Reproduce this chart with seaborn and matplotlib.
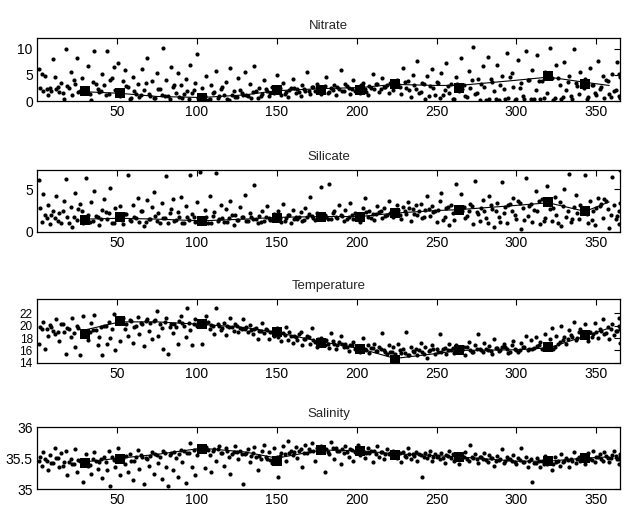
import numpy as np
import seaborn as sns
import matplotlib.pyplot as plt

# sampling days, first set of casts
days = [1, 2, 3, 4, 5, 7, 8, 10, 11, 12,
        14, 15, 17, 18, 19, 21, 22, 24, 25, 27,
        28, 29, 31, 32, 34, 35, 36, 38, 39, 41,
        42, 44, 45, 46, 48, 49, 51, 52, 54, 55,
        57, 58, 60, 61, 63, 64, 66, 67, 69, 70,
        72, 73, 75, 76, 78, 79, 81, 82, 84, 85,
        87, 88, 90, 91, 93, 94, 96, 97, 99, 100,
        102, 103, 105, 106, 108, 109, 111, 112, 114, 115,
        117, 118, 120, 121, 123, 124, 126, 127, 129, 130,
        132, 133, 135, 136, 138, 139, 141, 142, 144, 145,
        147, 148, 150, 151, 153, 154, 156, 157, 159, 160,
        162, 163, 165, 166, 168, 169, 171, 172, 174, 175,
        177, 178, 180, 181, 183, 184, 186, 187, 189, 190,
        192, 193, 195, 196, 198, 199, 201, 202, 204, 205,
        207, 208, 210, 211, 213, 214, 216, 217, 219, 220,
        222, 223, 225, 226, 228, 229, 231, 232, 234, 235,
        237, 238, 240, 241, 243, 244, 246, 247, 249, 250,
        252, 253, 255, 256, 258, 259, 261, 262, 264, 265,
        267, 268, 270, 271, 273, 274, 276, 277, 279, 280,
        282, 283, 285, 286, 288, 289, 291, 292, 294, 295,
        297, 298, 300, 301, 303, 304, 306, 307, 309, 310,
        312, 313, 315, 316, 318, 319, 321, 322, 324, 325,
        327, 328, 330, 331, 333, 334, 336, 337, 339, 340,
        342, 343, 345, 346, 348, 349, 351, 352, 354, 355,
        357, 358, 360, 361, 363, 364, 365, 366]

# second set of casts
days2 = [6, 9, 13, 16, 20, 23, 26, 30, 33, 37,
         40, 43, 47, 50, 53, 56, 59, 62, 65, 68,
         71, 74, 77, 80, 83, 86, 89, 92, 95, 98,
         101, 104, 107, 110, 113, 116, 119, 122, 125, 128,
         131, 134, 137, 140, 143, 146, 149, 152, 155, 158,
         161, 164, 167, 170, 173, 176, 179, 182, 185, 188,
         191, 194, 197, 200, 203, 206, 209, 212, 215, 218,
         221, 224, 227, 230, 233, 236, 239, 242, 245, 248,
         251, 254, 257, 260, 263, 266, 269, 272, 275, 278,
         281, 284, 287, 290, 293, 296, 299, 302, 305, 308,
         311, 314, 317, 320, 323, 326, 329, 332, 335, 338,
         341, 344, 347, 350, 353, 356, 359, 362, 364, 365]

nitrate = [6.2, 2.5, 5.1, 2.0, 4.8, 1.2, 2.6, 8.0, 4.7, 2.3,
           1.8, 3.5, 0.4, 10.0, 2.9, 5.6, 1.1, 3.2, 8.3, 2.0,
           4.4, 1.5, 2.1, 6.8, 0.3, 3.6, 9.5, 2.4, 1.8, 5.2,
           3.0, 9.6, 1.3, 4.1, 6.5, 2.2, 7.2, 1.0, 3.8, 5.9,
           2.7, 0.5, 4.6, 1.9, 3.3, 0.8, 6.1, 2.1, 8.2, 1.4,
           3.9, 0.6, 5.4, 2.3, 1.2, 10.1, 4.0, 0.9, 6.6, 2.8,
           1.5, 5.3, 3.1, 0.7, 4.3, 2.0, 7.0, 1.6, 3.4, 9.0,
           0.5, 2.6, 1.0, 4.8, 0.4, 3.0, 1.8, 5.8, 0.9, 2.4,
           1.2, 3.6, 0.3, 6.3, 1.9, 0.8, 4.5, 2.2, 1.1, 5.5,
           0.9, 3.2, 1.7, 6.8, 0.6, 2.5, 1.4, 4.0, 2.0, 1.0,
           2.8, 1.5, 5.0, 2.1, 1.2, 3.4, 1.8, 0.8, 2.6, 4.3,
           1.6, 2.3, 1.0, 3.1, 2.0, 5.6, 1.4, 2.7, 1.9, 3.3,
           2.2, 1.3, 2.9, 4.6, 1.7, 2.5, 3.0, 1.1, 2.4, 6.0,
           1.9, 3.2, 2.6, 1.4, 4.1, 2.0, 2.8, 1.6, 3.5, 2.3,
           1.2, 2.9, 5.2, 2.4, 3.3, 1.8, 4.4, 2.7, 3.0, 1.5,
           3.6, 2.1, 4.0, 3.2, 1.3, 6.4, 2.6, 3.9, 0.8, 5.0,
           2.4, 7.6, 1.7, 3.5, 0.5, 4.8, 2.9, 6.2, 1.2, 3.7,
           0.6, 5.4, 2.2, 7.2, 1.5, 3.3, 0.4, 4.6, 2.0, 8.2,
           3.1, 0.9, 5.8, 2.5, 10.4, 1.3, 4.2, 0.3, 6.7, 2.8,
           8.5, 0.5, 3.6, 1.9, 7.0, 0.3, 4.9, 2.3, 9.2, 0.6,
           5.3, 2.7, 0.4, 7.8, 3.4, 1.0, 9.6, 4.1, 0.5, 6.0,
           2.2, 8.9, 0.4, 3.9, 5.5, 1.6, 10.2, 4.4, 0.7, 6.9,
           3.0, 0.5, 7.4, 2.1, 4.8, 0.9, 9.9, 3.5, 1.3, 5.6,
           2.6, 4.2, 0.8, 6.3, 3.1, 1.5, 7.7, 2.4, 4.9, 0.6,
           3.8, 1.4, 5.2, 2.0, 7.5, 0.9, 4.6, 6.1]
nitrate2 = [2.4, 1.9, 2.8, 1.5, 2.6, 4.0, 1.7, 2.1, 1.4, 3.2,
            2.0, 1.2, 4.4, 1.8, 1.6, 2.9, 0.7, 1.3, 1.1, 3.5,
            0.9, 0.6, 2.4, 1.0, 0.5, 3.1, 0.8, 1.4, 0.4, 2.2,
            0.6, 0.9, 0.3, 1.5, 0.7, 2.7, 0.5, 1.1, 0.8, 1.6,
            1.2, 0.7, 1.9, 1.0, 2.3, 1.5, 1.8, 2.5, 1.4, 2.1,
            2.6, 1.7, 2.3, 1.9, 2.8, 2.0, 2.4, 1.6, 2.2, 2.7,
            2.0, 2.9, 2.4, 2.2, 3.0, 1.8, 2.6, 3.3, 2.3, 2.8,
            3.4, 3.1, 2.7, 3.6, 2.2, 3.0, 1.5, 3.3, 0.9, 2.6,
            3.5, 1.2, 2.9, 0.5, 3.2, 2.4, 0.8, 4.0, 1.6, 3.3,
            0.3, 4.2, 0.5, 3.1, 0.4, 4.6, 0.3, 2.5, 0.5, 4.1,
            0.4, 3.8, 0.6, 5.0, 0.3, 4.4, 0.8, 3.6, 0.5, 2.9,
            3.4, 0.4, 3.0, 1.2, 2.7, 4.0, 0.8, 2.2, 5.1, 0.6]

silicate = [6.0, 2.8, 1.2, 4.4, 2.0, 3.1, 0.9, 2.5, 1.6, 4.2,
            2.2, 1.0, 3.6, 6.2, 1.8, 2.9, 0.6, 4.5, 1.4, 3.3,
            2.4, 1.1, 6.3, 2.0, 3.5, 1.3, 4.8, 1.7, 0.8, 2.6,
            3.9, 1.5, 2.2, 5.1, 1.0, 2.8, 1.6, 3.0, 0.9, 2.1,
            6.6, 1.4, 3.2, 1.8, 4.0, 1.2, 2.5, 0.7, 3.7, 1.5,
            2.9, 4.6, 1.3, 2.2, 3.4, 1.6, 6.5, 1.1, 2.7, 3.8,
            1.4, 2.3, 4.1, 1.0, 3.0, 1.7, 6.6, 2.1, 1.2, 3.5,
            7.0, 1.3, 2.6, 1.8, 4.2, 1.1, 2.3, 6.9, 1.5, 3.1,
            1.2, 2.7, 1.6, 3.6, 0.8, 2.0, 1.4, 2.9, 1.7, 4.3,
            1.3, 2.2, 1.5, 5.5, 1.0, 1.9, 2.5, 1.3, 3.0, 1.6,
            1.4, 2.1, 1.7, 2.4, 1.2, 3.3, 1.6, 2.0, 1.1, 2.6,
            1.8, 1.5, 2.3, 1.3, 2.8, 1.7, 4.1, 1.9, 1.4, 2.2,
            1.6, 5.2, 2.0, 1.8, 5.6, 1.5, 2.4, 1.7, 3.1, 2.0,
            1.3, 2.6, 1.8, 3.4, 1.5, 2.2, 1.9, 1.2, 2.8, 4.0,
            1.7, 2.5, 2.1, 1.4, 3.0, 2.3, 1.6, 2.8, 2.0, 3.6,
            2.4, 1.8, 3.2, 2.6, 1.5, 2.9, 2.1, 3.5, 1.3, 2.7,
            3.1, 2.0, 3.3, 1.6, 2.6, 4.2, 1.9, 3.0, 2.4, 1.2,
            3.6, 4.5, 1.7, 2.8, 0.8, 3.2, 1.4, 5.6, 2.3, 4.4,
            2.9, 1.6, 2.5, 3.3, 0.9, 5.9, 2.1, 1.3, 3.7, 2.4,
            1.1, 4.2, 2.7, 0.6, 3.4, 1.8, 5.8, 2.2, 1.0, 3.1,
            2.5, 4.0, 1.5, 3.6, 0.4, 2.8, 6.3, 1.9, 3.3, 1.2,
            4.8, 2.4, 0.9, 3.8, 1.6, 5.4, 2.7, 1.3, 4.1, 2.0,
            3.5, 0.7, 5.0, 1.8, 6.8, 1.2, 2.9, 4.3, 1.5, 3.2,
            2.2, 6.6, 1.1, 3.6, 2.5, 0.8, 4.0, 3.0, 1.6, 3.8,
            2.7, 0.5, 6.4, 3.2, 1.9, 0.9, 7.2, 6.0]
silicate2 = [1.6, 2.0, 1.3, 2.4, 1.1, 1.8, 2.7, 1.4, 1.2, 1.9,
             1.5, 2.3, 1.0, 1.7, 1.4, 2.1, 1.3, 1.6, 2.5, 1.2,
             1.5, 1.9, 1.1, 1.6, 2.2, 1.3, 1.7, 1.0, 1.4, 1.8,
             1.2, 1.5, 1.1, 1.9, 1.3, 1.6, 1.2, 2.0, 1.4, 1.7,
             1.3, 1.8, 1.5, 1.2, 1.7, 1.4, 1.9, 1.6, 1.3, 2.0,
             1.5, 1.8, 1.4, 2.1, 1.6, 1.9, 1.7, 1.5, 2.2, 1.6,
             1.9, 1.5, 2.0, 1.7, 1.8, 2.3, 1.6, 2.1, 2.4, 1.9,
             2.2, 2.6, 2.0, 2.4, 2.8, 2.1, 2.5, 1.8, 2.7, 2.3,
             2.6, 1.4, 2.9, 2.2, 2.7, 2.5, 1.9, 3.0, 2.3, 2.8,
             1.6, 3.1, 2.4, 1.2, 2.9, 3.3, 2.0, 3.4, 1.4, 3.0,
             2.6, 3.6, 1.3, 3.3, 2.8, 1.1, 3.0, 2.4, 1.5, 2.2,
             2.5, 2.1, 1.4, 2.8, 3.3, 3.6, 2.0, 1.5, 2.4, 3.4]

temperature = [17.0, 19.8, 19.4, 20.6, 16.3, 18.4, 20.1, 19.2, 18.7, 21.0,
               17.5, 20.2, 18.9, 15.4, 19.6, 18.1, 21.2, 16.5, 20.0, 15.3,
               19.0, 21.5, 18.5, 17.6, 20.4, 19.3, 21.7, 16.8, 18.2, 15.3,
               19.9, 17.1, 20.6, 18.0, 21.8, 16.0, 20.5, 17.5, 21.2, 19.4,
               18.3, 20.9, 17.2, 19.8, 21.4, 18.6, 20.3, 16.7, 21.0, 19.1,
               17.8, 20.7, 22.4, 18.4, 19.6, 16.3, 21.3, 15.5, 20.2, 18.8,
               19.7, 17.0, 21.6, 20.4, 18.1, 22.8, 19.3, 16.9, 21.0, 19.9,
               20.6, 17.1, 20.3, 21.5, 19.5, 20.1, 18.7, 22.9, 20.0, 19.3,
               20.4, 18.5, 19.8, 21.3, 19.1, 20.2, 18.9, 19.6, 21.0, 19.4,
               19.0, 20.1, 18.6, 19.5, 17.8, 19.2, 20.4, 18.8, 19.3, 17.9,
               19.0, 18.4, 19.6, 18.1, 17.5, 18.8, 19.8, 17.7, 18.4, 17.2,
               18.2, 17.6, 18.9, 16.8, 17.9, 18.3, 17.1, 19.6, 17.4, 16.6,
               17.3, 18.0, 16.9, 17.6, 16.4, 18.8, 17.0, 16.2, 17.4, 18.4,
               16.5, 17.1, 15.9, 16.8, 17.4, 16.2, 16.6, 15.8, 18.0, 16.3,
               16.9, 15.6, 16.4, 17.0, 15.9, 16.6, 18.8, 16.1, 15.4, 16.8,
               15.8, 16.5, 14.6, 17.0, 15.6, 16.2, 18.9, 15.3, 16.6, 15.9,
               16.3, 15.2, 17.2, 15.8, 16.5, 14.8, 16.0, 16.9, 15.5, 16.2,
               18.6, 15.7, 16.4, 15.4, 17.1, 16.0, 15.6, 16.8, 16.2, 15.9,
               16.6, 15.3, 17.4, 16.1, 15.8, 16.9, 18.7, 16.3, 15.7, 17.2,
               16.0, 16.7, 15.5, 17.8, 16.4, 15.9, 16.6, 17.0, 16.2, 15.6,
               16.8, 17.5, 16.1, 15.8, 17.2, 16.5, 18.4, 16.0, 17.7, 16.3,
               18.1, 16.7, 17.4, 16.2, 18.6, 16.9, 17.8, 19.6, 16.5, 18.3,
               17.4, 19.9, 18.1, 17.0, 19.3, 18.5, 20.6, 17.7, 18.9, 19.5,
               18.3, 20.2, 17.5, 19.0, 18.6, 20.4, 18.0, 19.4, 21.0, 18.7,
               19.8, 17.9, 20.3, 18.5, 19.1, 21.3, 17.2, 20.8]
temperature2 = [19.5, 19.8, 19.0, 20.2, 19.4, 18.8, 19.6, 18.6, 18.9, 19.3,
                19.7, 20.0, 19.5, 20.6, 20.9, 20.3, 20.7, 19.9, 20.5, 20.8,
                20.4, 20.9, 20.2, 20.6, 19.8, 20.3, 20.7, 20.0, 20.5, 20.2,
                20.4, 20.1, 20.6, 19.9, 20.2, 19.6, 20.0, 19.7, 19.9, 19.4,
                19.8, 19.3, 19.6, 19.1, 19.4, 18.9, 19.2, 18.8, 18.5, 18.9,
                18.3, 18.6, 17.9, 18.1, 17.6, 17.8, 17.4, 17.1, 17.5, 16.9,
                17.0, 16.6, 16.9, 16.3, 16.5, 16.1, 16.4, 15.9, 16.2, 15.7,
                15.8, 15.4, 16.0, 15.6, 15.2, 15.8, 16.1, 15.5, 15.9, 16.3,
                15.8, 16.2, 16.0, 16.4, 15.9, 16.1, 16.5, 15.7, 16.3, 16.0,
                16.2, 15.9, 16.4, 16.1, 16.6, 15.8, 16.3, 16.0, 16.5, 16.2,
                16.4, 16.8, 16.2, 16.6, 16.3, 17.1, 17.6, 17.9, 18.2, 18.0,
                18.4, 18.7, 18.2, 18.9, 19.2, 18.8, 19.5, 19.1, 20.0, 19.4]

salinity = [35.45, 35.52, 35.38, 35.60, 35.48, 35.30, 35.55, 35.42, 35.67, 35.50,
            35.35, 35.58, 35.44, 35.62, 35.22, 35.49, 35.40, 35.65, 35.28, 35.46,
            35.41, 35.12, 35.56, 35.38, 35.25, 35.48, 35.60, 35.33, 35.44, 35.18,
            35.52, 35.30, 35.62, 35.05, 35.47, 35.36, 35.66, 35.22, 35.50, 35.41,
            35.28, 35.57, 35.14, 35.45, 35.63, 35.33, 35.52, 35.08, 35.48, 35.38,
            35.60, 35.25, 35.55, 35.42, 35.16, 35.62, 35.35, 35.05, 35.58, 35.30,
            35.50, 35.20, 35.63, 35.44, 35.10, 35.58, 35.74, 35.36, 35.22, 35.55,
            35.70, 35.62, 35.34, 35.68, 35.55, 35.28, 35.64, 35.46, 35.70, 35.58,
            35.38, 35.66, 35.52, 35.25, 35.60, 35.70, 35.48, 35.62, 35.08, 35.56,
            35.64, 35.44, 35.58, 35.68, 35.30, 35.54, 35.62, 35.72, 35.48, 35.60,
            35.42, 35.66, 35.52, 35.20, 35.58, 35.70, 35.46, 35.77, 35.62, 35.55,
            35.68, 35.50, 35.64, 35.35, 35.72, 35.58, 35.62, 35.74, 35.45, 35.66,
            35.60, 35.70, 35.28, 35.64, 35.56, 35.76, 35.48, 35.66, 35.62, 35.40,
            35.58, 35.70, 35.52, 35.64, 35.46, 35.60, 35.72, 35.55, 35.62, 35.50,
            35.66, 35.58, 35.44, 35.62, 35.70, 35.52, 35.60, 35.48, 35.64, 35.56,
            35.54, 35.62, 35.50, 35.58, 35.44, 35.60, 35.52, 35.66, 35.48, 35.56,
            35.60, 35.46, 35.55, 35.20, 35.58, 35.50, 35.62, 35.45, 35.56, 35.52,
            35.48, 35.58, 35.42, 35.55, 35.62, 35.50, 35.46, 35.57, 35.40, 35.54,
            35.52, 35.60, 35.45, 35.72, 35.50, 35.56, 35.42, 35.52, 35.48, 35.58,
            35.44, 35.55, 35.50, 35.38, 35.53, 35.47, 35.65, 35.42, 35.52, 35.48,
            35.46, 35.55, 35.40, 35.50, 35.66, 35.44, 35.52, 35.36, 35.48, 35.12,
            35.42, 35.50, 35.36, 35.46, 35.54, 35.40, 35.48, 35.30, 35.52, 35.44,
            35.38, 35.56, 35.45, 35.50, 35.35, 35.48, 35.60, 35.42, 35.52, 35.46,
            35.54, 35.40, 35.58, 35.48, 35.62, 35.44, 35.52, 35.56, 35.46, 35.60,
            35.50, 35.44, 35.55, 35.62, 35.48, 35.40, 35.56, 35.52]
salinity2 = [35.46, 35.42, 35.50, 35.38, 35.44, 35.40, 35.47, 35.43, 35.39, 35.45,
             35.48, 35.44, 35.51, 35.47, 35.49, 35.53, 35.46, 35.52, 35.55, 35.50,
             35.54, 35.57, 35.52, 35.58, 35.55, 35.60, 35.56, 35.62, 35.59, 35.63,
             35.65, 35.67, 35.63, 35.61, 35.64, 35.59, 35.62, 35.57, 35.60, 35.56,
             35.58, 35.54, 35.52, 35.49, 35.51, 35.47, 35.50, 35.53, 35.56, 35.58,
             35.60, 35.62, 35.59, 35.64, 35.61, 35.65, 35.63, 35.60, 35.66, 35.62,
             35.64, 35.60, 35.63, 35.61, 35.65, 35.58, 35.62, 35.57, 35.60, 35.56,
             35.59, 35.55, 35.58, 35.54, 35.57, 35.53, 35.56, 35.52, 35.55, 35.51,
             35.54, 35.50, 35.53, 35.56, 35.51, 35.54, 35.49, 35.52, 35.48, 35.51,
             35.47, 35.50, 35.46, 35.49, 35.45, 35.48, 35.44, 35.47, 35.43, 35.46,
             35.42, 35.45, 35.41, 35.44, 35.40, 35.46, 35.43, 35.47, 35.45, 35.49,
             35.48, 35.51, 35.47, 35.52, 35.49, 35.53, 35.50, 35.54, 35.48, 35.51]

# cruise means (big squares)
cruise_days = [30, 52, 103, 150, 178, 202, 224, 264, 320, 343]
nitrate_cruise = [2.0, 1.6, 0.6, 2.2, 2.2, 2.2, 3.3, 2.6, 4.8, 3.3]
silicate_cruise = [1.4, 1.7, 1.3, 1.6, 1.7, 1.7, 2.2, 2.6, 3.5, 2.4]
temperature_cruise = [18.7, 20.8, 20.2, 19.0, 17.2, 16.2, 14.5, 16.0, 16.5, 18.5]
salinity_cruise = [35.42, 35.48, 35.65, 35.45, 35.63, 35.62, 35.55, 35.52, 35.45, 35.50]

# smoothed seasonal curve
line_days = [30, 52, 75, 103, 130, 150, 178, 202, 224, 250, 264, 300, 320, 343, 358]
nitrate_line = [1.8, 1.5, 0.9, 0.7, 1.2, 2.0, 2.4, 2.6, 3.2, 3.0, 3.0, 4.0, 4.6, 3.6, 3.0]
silicate_line = [1.5, 1.6, 1.5, 1.3, 1.5, 1.7, 1.8, 1.8, 2.2, 2.5, 2.6, 3.1, 3.4, 2.4, 3.5]
temperature_line = [19.3, 20.6, 20.6, 20.2, 19.7, 18.9, 17.4, 16.3, 14.7, 15.5, 16.0, 16.1, 16.4, 18.3, 19.6]
salinity_line = [35.44, 35.50, 35.56, 35.66, 35.60, 35.50, 35.63, 35.62, 35.57, 35.54, 35.52, 35.45, 35.45, 35.50, 35.52]

sns.set_style('white')
plt.rcParams['font.family'] = ['Liberation Sans', 'DejaVu Sans']

panels = [
    ('Nitrate', nitrate, nitrate2, nitrate_cruise, nitrate_line, (0, 12), [0, 5, 10], ['0', '5', '10'], 10),
    ('Silicate', silicate, silicate2, silicate_cruise, silicate_line, (0, 7.2), [0, 5], ['0', '5'], 10),
    ('Temperature', temperature, temperature2, temperature_cruise, temperature_line, (14, 24.3),
     [14, 16, 18, 20, 22], ['14', '16', '18', '20', '22'], 8.5),
    ('Salinity', salinity, salinity2, salinity_cruise, salinity_line, (35, 36),
     [35, 35.5, 36], ['35', '35.5', '36'], 10),
]
boxes = [(0.059, 0.802, 0.932, 0.123),
         (0.059, 0.546, 0.932, 0.121),
         (0.059, 0.290, 0.932, 0.125),
         (0.059, 0.043, 0.932, 0.121)]

fig = plt.figure(figsize=(6.26, 5.11), dpi=100)
for (name, vals, vals2, cruise, line, ylim, yt, ytl, ysize), box in zip(panels, boxes):
    ax = fig.add_axes(box)
    sns.scatterplot(x=days + days2, y=vals + vals2, ax=ax, color='black', s=9, linewidth=0)
    sns.lineplot(x=line_days, y=line, ax=ax, color='black', linewidth=0.8)
    sns.scatterplot(x=cruise_days, y=cruise, ax=ax, color='black', s=62, marker='s', linewidth=0)
    ax.set_xlim(0, 365)
    ax.set_ylim(*ylim)
    ax.set_xticks([50, 100, 150, 200, 250, 300, 350])
    ax.set_yticks(yt)
    ax.set_yticklabels(ytl)
    ax.tick_params(direction='in', length=4, width=0.8, top=True, right=True,
                   labelsize=10, pad=3, colors='black')
    ax.tick_params(axis='y', labelsize=ysize)
    for sp in ax.spines.values():
        sp.set_color('black')
        sp.set_linewidth(0.9)
    ax.set_title(name, fontsize=9.5, pad=7)
    ax.set_xlabel('')
    ax.set_ylabel('')

fig.savefig('out.png', dpi=100)
